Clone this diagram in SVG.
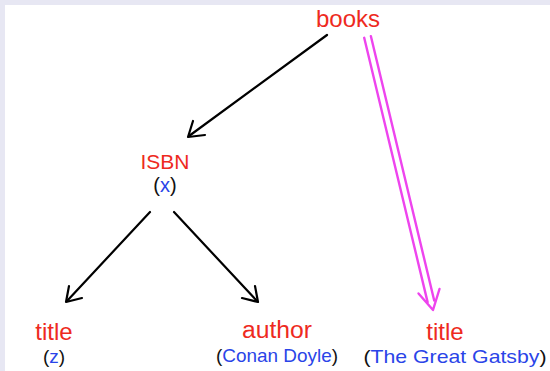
<svg xmlns="http://www.w3.org/2000/svg" width="550" height="371" viewBox="0 0 550 371">
<style>
.lbl{font-family:"Liberation Sans",Arial,sans-serif;fill:#ee2a1e;text-anchor:middle}
.sub{font-family:"Liberation Sans",Arial,sans-serif;fill:#111;text-anchor:middle}
.val{fill:#2a44e8}
.blk{stroke:#000;stroke-width:2.2;fill:none;stroke-linecap:round;stroke-linejoin:round}
.mag{stroke:#ee44ee;stroke-width:2.4;fill:none;stroke-linecap:round;stroke-linejoin:round}
</style>
<rect x="0" y="0" width="550" height="371" fill="#ffffff"/>
<rect x="0" y="0" width="550" height="5" fill="#e7e7f3"/>
<rect x="0" y="0" width="5" height="371" fill="#e7e7f3"/>
<g id="connectors">
<g id="e-books-isbn">
<path class="blk" d="M327,35 L189,136"/>
<path class="blk" d="M193,121 L188,137 L205,135"/>
</g>
<g id="e-isbn-title">
<path class="blk" d="M150,212 L67,301"/>
<path class="blk" d="M69,286 L66,302 L82,298"/>
</g>
<g id="e-isbn-author">
<path class="blk" d="M174,212 L257,301"/>
<path class="blk" d="M242,298 L258,302 L255,286"/>
</g>
<g id="e-books-title2">
<path class="mag" d="M364.2,37.8 L427.6,302.1 M370.9,36.2 L434.2,300.5"/>
<path class="mag" d="M418.5,293.5 L433,310 L439.5,289"/>
</g>
</g>
<g id="n-books"><text class="lbl" x="348" y="27" font-size="24">books</text></g>
<g id="n-isbn">
<text class="lbl" x="165" y="169" font-size="21">ISBN</text>
<text class="sub" x="165" y="192" font-size="20">(<tspan class="val">x</tspan>)</text>
</g>
<g id="n-title1">
<text class="lbl" x="54" y="340" font-size="24">title</text>
<text class="sub" x="54" y="363" font-size="19">(<tspan class="val">z</tspan>)</text>
</g>
<g id="n-author">
<text class="lbl" x="277" y="338" font-size="23" textLength="70" lengthAdjust="spacingAndGlyphs">author</text>
<text class="sub" x="277" y="362" font-size="19" textLength="122" lengthAdjust="spacingAndGlyphs">(<tspan class="val">Conan Doyle</tspan>)</text>
</g>
<g id="n-title2">
<text class="lbl" x="445" y="340" font-size="24">title</text>
<text class="sub" x="455" y="363" font-size="19" textLength="183" lengthAdjust="spacingAndGlyphs">(<tspan class="val">The Great Gatsby</tspan>)</text>
</g>
</svg>
